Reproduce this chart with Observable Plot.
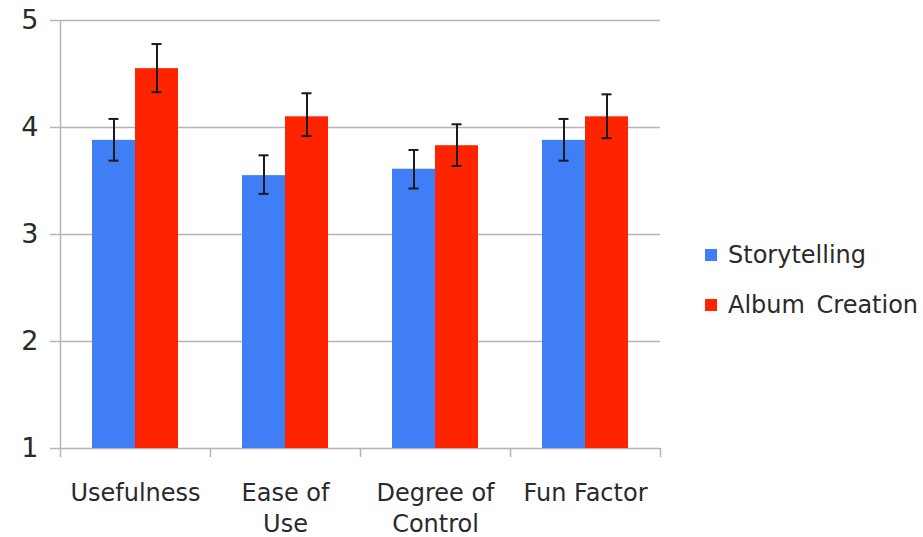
<!DOCTYPE html>
<html>
<head>
<meta charset="utf-8">
<script src="https://cdn.jsdelivr.net/npm/d3@7"></script>
<script src="https://cdn.jsdelivr.net/npm/@observablehq/plot@0.6"></script>
<style>
  body { margin: 0; background: #fff; }
  #wrap { position: relative; width: 923px; height: 537px; font-family: "DejaVu Sans", sans-serif; color: #2a2a2a; }
  #legend { position: absolute; left: 705px; top: 239px; font-size: 24px; word-spacing: 4px; }
  .item { display: flex; align-items: center; height: 32px; margin-bottom: 18px; white-space: nowrap; }
  .sw { width: 12px; height: 12px; margin-right: 11px; }
</style>
</head>
<body>
<div id="wrap"></div>
<script>
const categories = ["Usefulness", "Ease of Use", "Degree of Control", "Fun Factor"];
const tickLabels = ["Usefulness", "Ease of\nUse", "Degree of\nControl", "Fun Factor"];
const seriesNames = ["Storytelling", "Album Creation"];
const seriesColors = ["#3f7ef5", "#ff2400"];
const storytelling = [3.88, 3.55, 3.61, 3.88];
const storytellingLow = [3.69, 3.38, 3.43, 3.69];
const storytellingHigh = [4.08, 3.74, 3.79, 4.08];
const album = [4.55, 4.10, 3.83, 4.10];
const albumLow = [4.33, 3.92, 3.64, 3.90];
const albumHigh = [4.78, 4.32, 4.03, 4.31];
const yTicks = [1, 2, 3, 4, 5];

const idx = categories.map((_, i) => i);
const cat = i => categories[i];

const chart = Plot.plot({
  width: 923,
  height: 537,
  marginLeft: 60,
  marginRight: 263,
  marginTop: 20,
  marginBottom: 89,
  style: { fontFamily: "DejaVu Sans, sans-serif", color: "#2a2a2a", background: "transparent" },
  x: { domain: categories, padding: 0 },
  y: { domain: [1, 5], ticks: yTicks },
  marks: [
    Plot.ruleY(yTicks.slice(1), { stroke: "#b5b5b5", strokeWidth: 1.5 }),
    Plot.ruleY([1], { stroke: "#b5b5b5", strokeWidth: 1.5 }),
    Plot.ruleX([categories[0]], { dx: -75, y1: 1, y2: 5, stroke: "#b5b5b5", strokeWidth: 1.5 }),
    Plot.ruleX(categories, { dx: -75, y1: 1, y2: 1, insetBottom: -9, stroke: "#b5b5b5", strokeWidth: 1.5 }),
    Plot.ruleX([categories[categories.length - 1]], { dx: 75, y1: 1, y2: 1, insetBottom: -9, stroke: "#b5b5b5", strokeWidth: 1.5 }),
    Plot.barY(idx, { x: cat, y1: () => 1, y2: i => storytelling[i], fill: seriesColors[0], insetLeft: 32, insetRight: 75 }),
    Plot.barY(idx, { x: cat, y1: () => 1, y2: i => album[i], fill: seriesColors[1], insetLeft: 75, insetRight: 32 }),
    Plot.ruleX(idx, { x: cat, y1: i => storytellingLow[i], y2: i => storytellingHigh[i], dx: -21.5, stroke: "#1a1a1a", strokeWidth: 2 }),
    Plot.ruleX(idx, { x: cat, y1: i => albumLow[i], y2: i => albumHigh[i], dx: 21.5, stroke: "#1a1a1a", strokeWidth: 2 }),
    Plot.tickY(idx, { x: cat, y: i => storytellingLow[i], dx: -21.5, insetLeft: 70, insetRight: 70, stroke: "#1a1a1a", strokeWidth: 2 }),
    Plot.tickY(idx, { x: cat, y: i => storytellingHigh[i], dx: -21.5, insetLeft: 70, insetRight: 70, stroke: "#1a1a1a", strokeWidth: 2 }),
    Plot.tickY(idx, { x: cat, y: i => albumLow[i], dx: 21.5, insetLeft: 70, insetRight: 70, stroke: "#1a1a1a", strokeWidth: 2 }),
    Plot.tickY(idx, { x: cat, y: i => albumHigh[i], dx: 21.5, insetLeft: 70, insetRight: 70, stroke: "#1a1a1a", strokeWidth: 2 }),
    Plot.axisY({ ticks: yTicks, tickFormat: d => String(d), tickSize: 10, stroke: "#b5b5b5", strokeWidth: 1.5, tickPadding: 12, fontSize: 27, label: null, fill: "#2a2a2a" }),
    Plot.axisX({ tickSize: 0, tickPadding: 30, fontSize: 24, label: null, lineHeight: 1.3, fill: "#2a2a2a",
      tickFormat: d => tickLabels[categories.indexOf(d)] })
  ]
});

const wrap = document.getElementById("wrap");
wrap.appendChild(chart);
const legend = document.createElement("div");
legend.id = "legend";
seriesNames.forEach((name, i) => {
  const item = document.createElement("div");
  item.className = "item";
  const sw = document.createElement("div");
  sw.className = "sw";
  sw.style.background = seriesColors[i];
  const label = document.createElement("span");
  label.textContent = name;
  item.appendChild(sw);
  item.appendChild(label);
  legend.appendChild(item);
});
wrap.appendChild(legend);
</script>
</body>
</html>
